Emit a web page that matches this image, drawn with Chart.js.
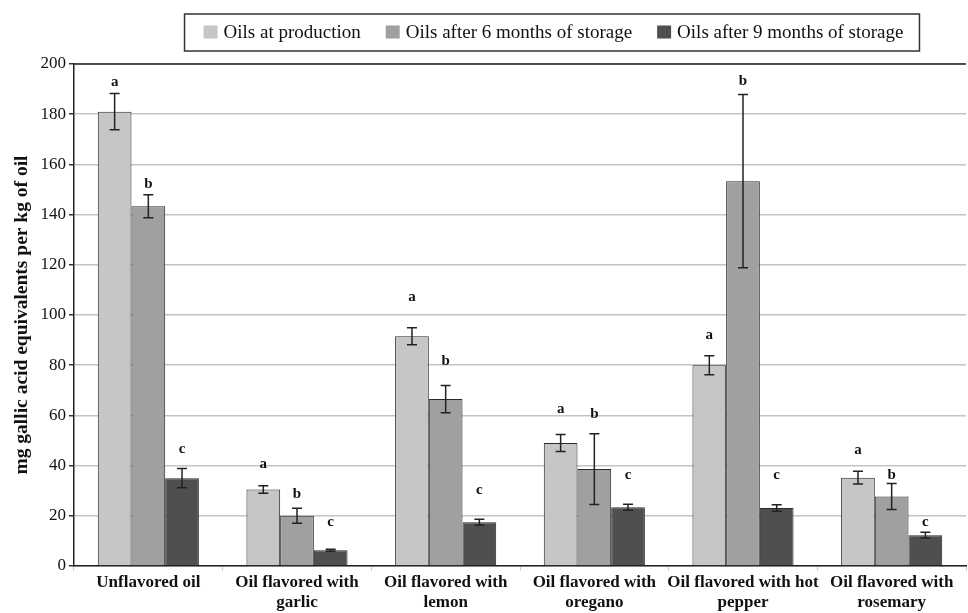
<!DOCTYPE html>
<html>
<head>
<meta charset="utf-8">
<script src="https://cdn.jsdelivr.net/npm/chart.js@4/dist/chart.umd.min.js"></script>
<style>
  html, body { margin: 0; padding: 0; background: #fff; }
  #wrap { width: 968px; height: 613px; }
</style>
</head>
<body>
<div id="wrap"><canvas id="chart" width="968" height="613"></canvas></div>
<script>
const categories = [
  'Unflavored oil',
  ['Oil flavored with', 'garlic'],
  ['Oil flavored with', 'lemon'],
  ['Oil flavored with', 'oregano'],
  ['Oil flavored with hot', 'pepper'],
  ['Oil flavored with', 'rosemary'],
];

const seriesNames = ['Oils at production', 'Oils after 6 months of storage', 'Oils after 9 months of storage'];
const seriesColors = ['#c6c6c6', '#a0a0a0', '#4f4f4f'];

const atProduction = [181, 30.5, 91.5, 49, 80, 35.2];
const after6Months = [143.3, 20, 66.5, 38.6, 153.3, 27.7];
const after9Months = [35, 6.3, 17.4, 23.4, 23.1, 12.3];

const errProduction = [7.2, 1.5, 3.4, 3.4, 3.8, 2.5];
const err6Months = [4.6, 3, 5.4, 14.1, 34.5, 5.2];
const err9Months = [3.8, 0.4, 1.2, 1.2, 1.3, 1.1];

// significance letters and the value at which each one sits
const letters = ['a', 'b', 'c'];
const letterAtProduction = [192.8, 40.6, 107.2, 62.5, 92, 46.3];
const letterAt6Months = [152.3, 28.5, 81.8, 60.7, 193.2, 36.2];
const letterAt9Months = [46.6, 17.3, 30.4, 36.4, 36.2, 17.3];

const yTicks = [0, 20, 40, 60, 80, 100, 120, 140, 160, 180, 200];

const values = [atProduction, after6Months, after9Months];
const errors = [errProduction, err6Months, err9Months];
const letterPos = [letterAtProduction, letterAt6Months, letterAt9Months];

const SERIF = '"Liberation Serif", "Times New Roman", serif';

const errorBars = {
  id: 'errorBars',
  afterDatasetsDraw(chart) {
    const ctx = chart.ctx;
    const y = chart.scales.y;
    ctx.save();
    ctx.strokeStyle = '#222';
    ctx.lineWidth = 1.5;
    chart.data.datasets.forEach((ds, i) => {
      const meta = chart.getDatasetMeta(i);
      meta.data.forEach((bar, j) => {
        const v = values[i][j];
        const e = errors[i][j];
        const top = y.getPixelForValue(v + e);
        const bot = y.getPixelForValue(v - e);
        const cap = 5;
        ctx.beginPath();
        ctx.moveTo(bar.x, top); ctx.lineTo(bar.x, bot);
        ctx.moveTo(bar.x - cap, top); ctx.lineTo(bar.x + cap, top);
        ctx.moveTo(bar.x - cap, bot); ctx.lineTo(bar.x + cap, bot);
        ctx.stroke();

        ctx.fillStyle = '#111';
        ctx.font = 'bold 15px ' + SERIF;
        ctx.textAlign = 'center';
        ctx.textBaseline = 'middle';
        ctx.fillText(letters[i], bar.x, y.getPixelForValue(letterPos[i][j]));
      });
    });
    ctx.restore();
  },
};

const frame = {
  id: 'frame',
  afterDraw(chart) {
    const ctx = chart.ctx;
    const a = chart.chartArea;
    ctx.save();
    // top border of plot
    ctx.strokeStyle = '#222';
    ctx.lineWidth = 1.5;
    ctx.beginPath();
    ctx.moveTo(a.left, a.top);
    ctx.lineTo(a.right, a.top);
    ctx.stroke();

    // boxed legend
    ctx.font = '19px ' + SERIF;
    const sw = 14, gapSw = 6, gapItem = 25, padL = 19, padR = 16;
    const widths = seriesNames.map(n => ctx.measureText(n).width);
    let total = padL + padR;
    widths.forEach((w, i) => { total += sw + gapSw + w + (i < widths.length - 1 ? gapItem : 0); });
    const cx = 552, boxTop = 14, boxH = 37;
    let x = cx - total / 2;
    ctx.lineWidth = 1.5;
    ctx.strokeStyle = '#333';
    ctx.strokeRect(x, boxTop, total, boxH);
    x += padL;
    const midY = boxTop + boxH / 2;
    seriesNames.forEach((n, i) => {
      ctx.fillStyle = seriesColors[i];
      ctx.fillRect(x, midY - 7, sw, 13);
      ctx.fillStyle = '#111';
      ctx.textAlign = 'left';
      ctx.textBaseline = 'middle';
      ctx.fillText(n, x + sw + gapSw, midY + 1);
      x += sw + gapSw + widths[i] + gapItem;
    });
    ctx.restore();
  },
};

new Chart(document.getElementById('chart'), {
  type: 'bar',
  data: {
    labels: categories,
    datasets: seriesNames.map((name, i) => ({
      label: name,
      data: values[i],
      backgroundColor: seriesColors[i],
      borderColor: '#2a2a2a',
      borderWidth: 1,
      barPercentage: 1,
      categoryPercentage: 0.68,
    })),
  },
  options: {
    responsive: false,
    animation: false,
    layout: { padding: { top: 64, right: 2, left: 0, bottom: 0 } },
    plugins: {
      legend: { display: false },
      tooltip: { enabled: false },
    },
    scales: {
      x: {
        grid: { display: true, drawOnChartArea: false, tickLength: 5, color: '#d0d0d0', offset: true },
        border: { color: '#222', width: 1.5 },
        ticks: {
          color: '#111',
          font: { family: SERIF, size: 17, weight: 'bold' },
          maxRotation: 0,
          autoSkip: false,
          padding: 1,
        },
        afterFit(scale) { scale.height = 47; },
      },
      y: {
        min: 0,
        max: 200,
        afterBuildTicks(scale) { scale.ticks = yTicks.map(v => ({ value: v })); },
        grid: { color: '#c4c4c4', lineWidth: 1.5, tickLength: 5, tickColor: '#333' },
        border: { color: '#222', width: 1.5 },
        ticks: {
          color: '#111',
          font: { family: SERIF, size: 17 },
          padding: 3,
        },
        title: {
          display: true,
          text: 'mg gallic acid equivalents per kg of oil',
          color: '#111',
          font: { family: SERIF, size: 19.5, weight: 'bold' },
          padding: { top: 10, bottom: 0 },
        },
        afterFit(scale) { scale.width = 74; },
      },
    },
  },
  plugins: [errorBars, frame],
});
</script>
</body>
</html>
